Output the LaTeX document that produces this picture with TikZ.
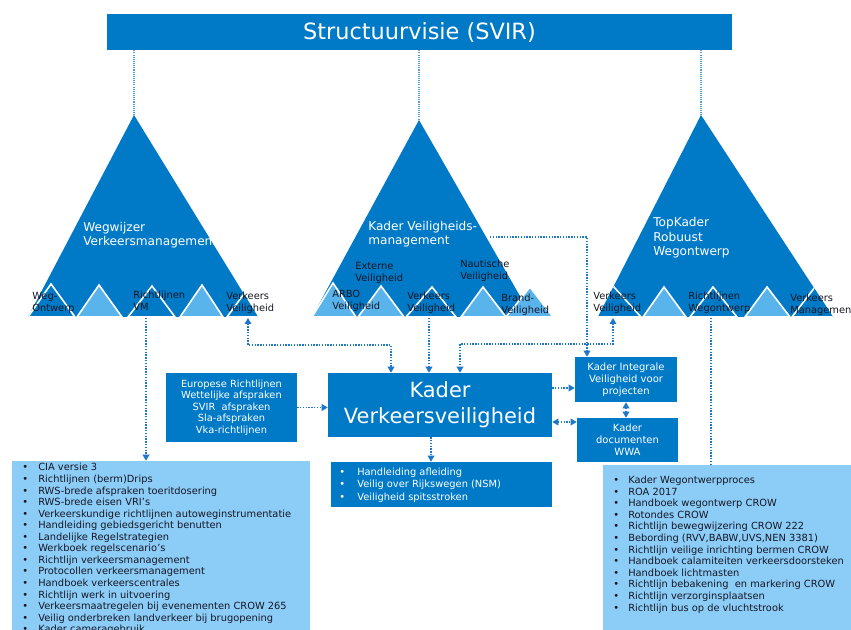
\documentclass[tikz,border=0pt]{standalone}
\usepackage{fontspec}
\setmainfont{DejaVu Sans}
\usetikzlibrary{arrows.meta}

\definecolor{svblue}{RGB}{0,122,199}
\definecolor{svlight}{RGB}{90,180,236}
\definecolor{svpale}{RGB}{140,205,247}
\definecolor{svdots}{RGB}{30,120,200}
\definecolor{svink}{RGB}{22,22,36}

\newcommand{\fsLabel}{\fontsize{7.4pt}{8.7pt}\selectfont}
\newcommand{\fsBox}{\fontsize{7.5pt}{9pt}\selectfont}
\newcommand{\fsHead}{\fontsize{9.1pt}{10.6pt}\selectfont}
\newcommand{\fsTop}{\fontsize{16.8pt}{20pt}\selectfont}
\newcommand{\fsKader}{\fontsize{15.7pt}{19.5pt}\selectfont}

\tikzset{
  px box/.style 2 args={minimum width=#1*0.75pt, minimum height=#2*0.75pt},
  bluebox/.style={fill=svblue, text=white, inner sep=0pt, align=center, font=\fsBox},
  palebox/.style={fill=svpale, inner sep=0pt},
  lighttri/.style={fill=svlight, draw=white, line width=1.2pt},
  darktri/.style={fill=svblue, draw=white, line width=1.2pt},
  lbl/.style={text=svink, font=\fsLabel, align=left, anchor=north west, inner sep=0pt},
  head/.style={text=white, font=\fsHead, align=left, anchor=north west, inner sep=0pt},
  item/.style={text=svink, font=\fsLabel, anchor=base west, inner sep=0pt},
  whiteitem/.style={item, text=white},
  link/.style={draw=svdots, line width=1pt, dash pattern=on 1pt off 1.1pt},
  feed/.style={draw=svdots!75, line width=0.8pt, dash pattern=on 0.8pt off 0.8pt},
  >={Triangle[width=5pt,length=4.5pt]}
}

\begin{document}
\begin{tikzpicture}[x=0.75pt,y=-0.75pt]
\useasboundingbox (0,0) rectangle (851,630);
\clip (0,0) rectangle (851,630);

% ---- top bar ----
\node[bluebox, px box={625}{36}, font=\fsTop] (svir) at (419.5,32) {Structuurvisie (SVIR)};

% ---- apexes of the three pyramids ----
\coordinate (la) at (134,115);
\coordinate (ma) at (419,120);
\coordinate (ra) at (701,115);

\draw[feed] (la |- svir.south) -- (la);
\draw[feed] (ma |- svir.south) -- (ma);
\draw[feed] (ra |- svir.south) -- (ra);

% ---- left pyramid ----
\fill[svblue] (la) -- (28,317) -- (258,317) -- cycle;
\begin{scope}
  \clip (la) -- (28,317) -- (258,317) -- cycle;
  \draw[darktri]  (28,317) -- (51,284) -- (75,317) -- cycle;
  \draw[lighttri] (77,317) -- (99,285) -- (122,317) -- cycle;
  \draw[darktri]  (128,317) -- (152,286) -- (175,317) -- cycle;
  \draw[lighttri] (180,317) -- (202,285) -- (223,317) -- cycle;
  \draw[darktri]  (227,317) -- (249,287) -- (272,317) -- cycle;
\end{scope}
\node[head] (lhead) at (83,222) {Wegwijzer\\Verkeersmanagement};
\node[lbl] (lweg) at (32,292) {Weg-\\Ontwerp};
\node[lbl] (lvm) at (133,291) {Richtlijnen\\VM};
\node[lbl] (lvvl) at (226,292) {Verkeers\\Veiligheid};

% ---- middle pyramid ----
\fill[svblue] (ma) -- (312,317) -- (532,317) -- cycle;
\draw[lighttri] (312,317) -- (333,283) -- (356,317) -- cycle;
\draw[lighttri] (358,317) -- (381,286) -- (404,317) -- cycle;
\draw[darktri]  (406,317) -- (432,287) -- (456,317) -- cycle;
\draw[lighttri] (461,317) -- (483,287) -- (506,317) -- cycle;
\draw[lighttri] (506,317) -- (530,287) -- (553,317) -- cycle;
\node[head] (mhead) at (368,221) {Kader Veiligheids-\\management};
\node[lbl] (marbo) at (332,290) {ARBO\\Veiligheid};
\node[lbl] (mext) at (355,262) {Externe\\Veiligheid};
\node[lbl] (mnaut) at (460,260) {Nautische\\Veiligheid};
\node[lbl] (mvvl) at (407,292) {Verkeers\\Veiligheid};
\node[lbl] (mbrand) at (501,294) {Brand-\\Veiligheid};

% ---- right pyramid ----
\fill[svblue] (ra) -- (598,317) -- (833,317) -- cycle;
\begin{scope}
  \clip (ra) -- (598,317) -- (833,317) -- cycle;
  \draw[darktri]  (588,317) -- (613,286) -- (641,317) -- cycle;
  \draw[lighttri] (643,317) -- (664,287) -- (686,317) -- cycle;
  \draw[darktri]  (690,317) -- (713,287) -- (737,317) -- cycle;
  \draw[lighttri] (745,317) -- (767,287) -- (790,317) -- cycle;
  \draw[darktri]  (792,317) -- (815,287) -- (840,317) -- cycle;
\end{scope}
\node[head, font=\fontsize{9.1pt}{10.9pt}\selectfont] (rhead) at (653,217) {TopKader\\Robuust\\Wegontwerp};
\node[lbl] (rvvl) at (593,292) {Verkeers\\Veiligheid};
\node[lbl] (rweg) at (688,292) {Richtlijnen\\Wegontwerp};
\node[lbl] (rvm) at (790,294) {Verkeers\\Management};

% ---- central boxes ----
\node[bluebox, px box={224}{64}, font=\fsKader] (kvv) at (440,405) {Kader\\Verkeersveiligheid};
\node[bluebox, px box={131}{69}, font=\fsLabel] (bron) at (231.5,407.5)
  {Europese Richtlijnen\\Wettelijke afspraken\\SVIR~ afspraken\\Sla-afspraken\\Vka-richtlijnen};
\node[bluebox, px box={102}{45}] (kiv) at (626,379.5) {Kader Integrale\\Veiligheid voor\\projecten};
\node[bluebox, px box={101}{44}] (wwa) at (627.5,440) {Kader\\documenten\\WWA};

% ---- list under the central box ----
\node[fill=svblue, px box={221}{45}, inner sep=0pt] (mlist) at (441.5,484.5) {};
\foreach \t [count=\i] in {Handleiding afleiding, Veilig over Rijkswegen (NSM), Veiligheid spitsstroken} {
  \node[whiteitem] (mb-\i) at (339,{475.5+12.5*(\i-1)}) {•};
  \node[whiteitem] (mi-\i) at (357,{475.5+12.5*(\i-1)}) {\t};
}

% ---- list of traffic management documents ----
\node[palebox, px box={298}{185}] (leftlist) at (161,553.5) {};
\foreach \t [count=\i] in {CIA versie 3, Richtlijnen (berm)Drips, RWS-brede afspraken toeritdosering,
  RWS-brede eisen VRI’s, Verkeerskundige richtlijnen autoweginstrumentatie,
  Handleiding gebiedsgericht benutten, Landelijke Regelstrategien, Werkboek regelscenario’s,
  Richtlijn verkeersmanagement, Protocollen verkeersmanagement, Handboek verkeerscentrales,
  Richtlijn werk in uitvoering, Verkeersmaatregelen bij evenementen CROW 265,
  Veilig onderbreken landverkeer bij brugopening, Kader cameragebruik} {
  \node[item] (lb-\i) at (22,{471+11.55*(\i-1)}) {•};
  \node[item] (li-\i) at (38,{471+11.55*(\i-1)}) {\t};
}

% ---- list of road design documents ----
\node[palebox, px box={260}{175}] (rightlist) at (733,552.5) {};
\foreach \t [count=\i] in {Kader Wegontwerpproces, ROA 2017, Handboek wegontwerp CROW, Rotondes CROW,
  Richtlijn bewegwijzering CROW 222, {Bebording (RVV,BABW,UVS,NEN 3381)},
  Richtlijn veilige inrichting bermen CROW, Handboek calamiteiten verkeersdoorsteken,
  Handboek lichtmasten, Richtlijn bebakening~ en markering CROW,
  Richtlijn verzorginsplaatsen, Richtlijn bus op de vluchtstrook} {
  \node[item] (rb-\i) at (613,{483.5+11.6*(\i-1)}) {•};
  \node[item] (ri-\i) at (628,{483.5+11.6*(\i-1)}) {\t};
}

% ---- connector end points ----
\coordinate (lvvp) at (248,318);
\coordinate (lvmp) at (146,318);
\coordinate (mvvp) at (429,318);
\coordinate (rvvp) at (613,318);
\coordinate (rwegp) at (711,318);
\coordinate (mkvp) at (490,237);
\coordinate (j1) at (391,345);
\coordinate (j2) at (460,344);
\coordinate (x587) at (587,0);
\coordinate (x431) at (431,0);
\coordinate (h1) at (0,388);
\coordinate (h2) at (0,422);

% ---- connectors ----
\draw[link,<->] (lvvp) |- (j1) -- (j1 |- kvv.north);
\draw[link,->] (mvvp) -- (mvvp |- kvv.north);
\draw[link,<->] (rvvp) |- (j2) -- (j2 |- kvv.north);
\draw[link,->] (mkvp) -| (x587 |- kiv.north);
\draw[link,->] (bron.east) -- (bron.east -| kvv.west);
\draw[link,->] (kvv.east |- h1) -- (kiv.west |- h1);
\draw[link,<->] (kvv.east |- h2) -- (wwa.west |- h2);
\draw[link,<->] (kiv.south) -- (kiv.south |- wwa.north);
\draw[link,->] (x431 |- kvv.south) -- (x431 |- mlist.north);
\draw[link,->] (lvmp) -- (lvmp |- leftlist.north);
\draw[link] (rwegp) -- (rwegp |- rightlist.north);
\end{tikzpicture}
\end{document}
